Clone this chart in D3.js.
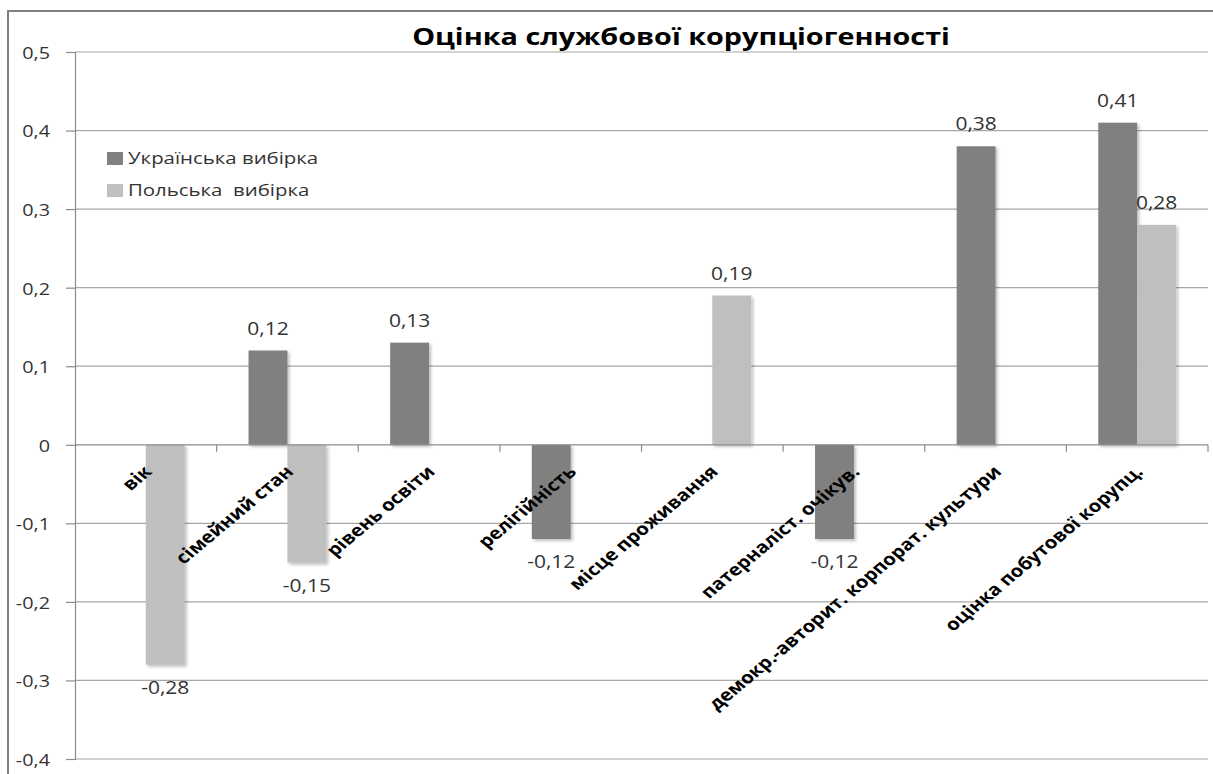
<!DOCTYPE html>
<html>
<head>
<meta charset="utf-8">
<script src="https://cdn.jsdelivr.net/npm/d3@7"></script>
<style>
  html, body { margin: 0; padding: 0; background: #fff; }
  svg { display: block; }
  text { font-family: "Open Sans", "Noto Sans", sans-serif; }
</style>
</head>
<body>
<svg id="chart" width="1213" height="774"></svg>
<script>
// Categories along the x axis
const categories = [
  "вік",
  "сімейний стан",
  "рівень освіти",
  "релігійність",
  "місце проживання",
  "патерналіст. очікув.",
  "демокр.-авторит. корпорат. культури",
  "оцінка побутової корупц."
];
// Series names (legend) and values; null means no bar for that category
const seriesNames = ["Українська вибірка", "Польська  вибірка"];
const ukrainianValues = [null, 0.12, 0.13, -0.12, null, -0.12, 0.38, 0.41];
const polishValues = [-0.28, -0.15, null, null, 0.19, null, null, 0.28];
const yTicks = [-0.4, -0.3, -0.2, -0.1, 0, 0.1, 0.2, 0.3, 0.4, 0.5];
const chartTitle = "Оцінка службової корупціогенності";

const seriesColors = ["#808080", "#bfbfbf"];
// Text is drawn slightly wide (horizontal stretch applied to every label)
const textStretch = 1.2;
const svg = d3.select("#chart");

const defs = svg.append("defs");
const f = defs.append("filter").attr("id", "shadow")
  .attr("x", "-20%").attr("y", "-20%").attr("width", "150%").attr("height", "150%");
f.append("feDropShadow").attr("dx", 2).attr("dy", 2)
  .attr("stdDeviation", 1.8).attr("flood-color", "#000").attr("flood-opacity", 0.25);

// Outer frame
svg.append("rect")
  .attr("x", 8).attr("y", 11).attr("width", 1220).attr("height", 780)
  .attr("fill", "none").attr("stroke", "#7f7f7f").attr("stroke-width", 2);

const left = 75, right = 1208;
const y = d3.scaleLinear().domain([-0.4, 0.5]).range([759, 52]);
const x0 = d3.scaleBand().domain(categories).range([left, right]).padding(0);
const x1 = d3.scaleBand().domain(seriesNames).range([0, x0.bandwidth()])
  .paddingInner(0).paddingOuter(0.82);

const fmt = v => (Math.round(v * 100) / 100).toString().replace(".", ",");
const fmtTick = v => (Math.abs(v) < 1e-9 ? "0" : d3.format(".1f")(v).replace(".", ",").replace("−", "-"));
const place = (x, yy, extra = "") => `translate(${x},${yy}) scale(${textStretch},1)${extra}`;

// Horizontal gridlines
svg.append("g").selectAll("line").data(yTicks.filter(t => t !== 0)).join("line")
  .attr("x1", left).attr("x2", right)
  .attr("y1", d => y(d)).attr("y2", d => y(d))
  .attr("stroke", "#a6a6a6").attr("stroke-width", 1.2);

// Y axis
const yAxis = d3.axisLeft(y).tickValues(yTicks).tickSize(9).tickFormat(fmtTick);
const gy = svg.append("g").attr("transform", `translate(${left},0)`).call(yAxis);
gy.select(".domain").attr("stroke", "#8c8c8c").attr("stroke-width", 1.2);
gy.selectAll(".tick line").attr("stroke", "#8c8c8c").attr("stroke-width", 1.2);
gy.selectAll(".tick text")
  .attr("x", null).attr("dy", null)
  .attr("transform", place(-25, 0))
  .attr("dominant-baseline", "central")
  .attr("font-size", 16.5).attr("fill", "#333")
  .attr("font-family", "Open Sans, sans-serif");

// Title
svg.append("text")
  .attr("transform", place(681, 45))
  .attr("text-anchor", "middle")
  .attr("font-size", 24).attr("font-weight", "bold").attr("fill", "#000")
  .text(chartTitle);

// Bars
const rows = [];
categories.forEach((c, i) => {
  [ukrainianValues, polishValues].forEach((vals, s) => {
    if (vals[i] !== null) rows.push({ cat: c, series: seriesNames[s], s, v: vals[i] });
  });
});

svg.append("g").selectAll("rect").data(rows).join("rect")
  .attr("x", d => x0(d.cat) + x1(d.series))
  .attr("width", x1.bandwidth())
  .attr("y", d => y(Math.max(0, d.v)))
  .attr("height", d => Math.abs(y(d.v) - y(0)))
  .attr("fill", d => seriesColors[d.s])
  .attr("filter", "url(#shadow)");

// Zero axis with category boundary ticks
const gx = svg.append("g").attr("transform", `translate(0,${y(0)})`);
gx.append("line").attr("x1", left).attr("x2", right).attr("y1", 0).attr("y2", 0)
  .attr("stroke", "#8c8c8c").attr("stroke-width", 1.2);
const bounds = categories.map(c => x0(c) + x0.bandwidth());
gx.selectAll("line.tk").data(bounds).join("line").attr("class", "tk")
  .attr("x1", d => d).attr("x2", d => d).attr("y1", 0).attr("y2", 7)
  .attr("stroke", "#8c8c8c").attr("stroke-width", 1.2);

// Value labels
svg.append("g").selectAll("text").data(rows).join("text")
  .attr("transform", d => place(
    x0(d.cat) + x1(d.series) + x1.bandwidth() / 2,
    d.v >= 0 ? y(d.v) - 16 : y(d.v) + 29))
  .attr("text-anchor", "middle")
  .attr("font-size", 17.5).attr("fill", "#333")
  .text(d => fmt(d.v));

// Rotated category labels
svg.append("g").selectAll("text").data(categories).join("text")
  .attr("transform", c => place(x0(c) + x0.bandwidth() / 2 + 7, y(0) + 28, " rotate(-45)"))
  .attr("text-anchor", "end")
  .attr("font-size", 17).attr("font-weight", "bold").attr("fill", "#000")
  .text(c => c);

// Legend
const lg = svg.append("g").selectAll("g").data(seriesNames).join("g")
  .attr("transform", (d, i) => `translate(107,${158 + i * 32})`);
lg.append("rect").attr("x", 0).attr("y", -6).attr("width", 16).attr("height", 13)
  .attr("fill", (d, i) => seriesColors[i]);
lg.append("text").attr("transform", place(21, 6))
  .attr("font-size", 17).attr("fill", "#333")
  .style("white-space", "pre")
  .text(d => d);
</script>
</body>
</html>
